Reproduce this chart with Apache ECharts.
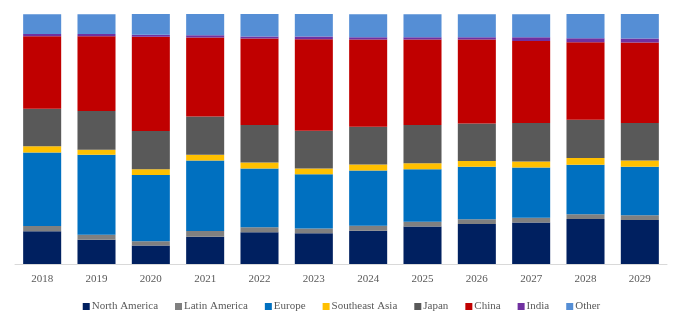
<!DOCTYPE html>
<html>
<head>
<meta charset="utf-8">
<script src="https://cdn.jsdelivr.net/npm/echarts@6/dist/echarts.min.js"></script>
<style>html,body{margin:0;padding:0;background:#fff;}#c{width:683px;height:322px;}</style>
</head>
<body>
<div id="c"></div>
<script>
const years = ['2018','2019','2020','2021','2022','2023','2024','2025','2026','2027','2028','2029'];
const northAmerica  = [13.1, 9.7, 7.4, 10.9, 12.7, 12.3, 13.3, 15.0, 16.0, 16.6, 18.0, 17.6];
const latinAmerica  = [2.1, 2.0, 1.7, 2.3, 2.0, 1.9, 2.0, 1.9, 1.9, 1.9, 1.9, 1.9];
const europe        = [29.4, 32.0, 26.5, 28.2, 23.5, 21.7, 22.1, 21.0, 21.0, 20.1, 19.8, 19.4];
const southeastAsia = [2.5, 2.0, 2.3, 2.3, 2.4, 2.3, 2.4, 2.4, 2.3, 2.4, 2.7, 2.5];
const japan         = [15.0, 15.5, 15.3, 15.3, 15.0, 15.1, 15.1, 15.3, 15.0, 15.4, 15.3, 15.0];
const china         = [29.0, 29.9, 37.7, 31.6, 34.6, 36.6, 34.9, 34.2, 33.6, 32.8, 31.0, 32.2];
const india         = [0.9, 0.9, 0.8, 0.9, 0.8, 1.1, 0.9, 0.9, 0.9, 1.5, 1.6, 1.6];
const other         = [7.9, 7.9, 8.3, 8.6, 9.0, 9.0, 9.2, 9.2, 9.2, 9.2, 9.8, 9.8];

const seriesDefs = [
  ['North America', northAmerica, '#002060'],
  ['Latin America', latinAmerica, '#808080'],
  ['Europe', europe, '#0070C0'],
  ['Southeast Asia', southeastAsia, '#FFC000'],
  ['Japan', japan, '#595959'],
  ['China', china, '#C00000'],
  ['India', india, '#7030A0'],
  ['Other', other, '#558ED5']
];

const chart = echarts.init(document.getElementById('c'), null, {renderer: 'canvas'});
chart.setOption({
  animation: false,
  backgroundColor: '#fff',
  grid: {left: 15, right: 16, top: 14, bottom: 58, containLabel: false},
  legend: {
    top: 296,
    left: 'center',
    itemWidth: 7,
    itemHeight: 7,
    itemGap: 17,
    icon: 'rect',
    textStyle: {fontFamily: 'Liberation Serif', fontSize: 11, color: '#595959', padding: [0,0,0,-3]},
    data: seriesDefs.map(s => s[0])
  },
  xAxis: {
    type: 'category',
    data: years,
    axisLine: {lineStyle: {color: '#D9D9D9', width: 1}},
    axisTick: {show: false},
    axisLabel: {fontFamily: 'Liberation Serif', fontSize: 11, color: '#595959', margin: 10}
  },
  yAxis: {
    type: 'value',
    min: 0,
    max: 100,
    show: false,
    splitLine: {show: false}
  },
  series: seriesDefs.map(s => ({
    name: s[0],
    type: 'bar',
    stack: 'total',
    data: s[1],
    barWidth: '70%',
    itemStyle: {color: s[2]}
  }))
});
</script>
</body>
</html>
